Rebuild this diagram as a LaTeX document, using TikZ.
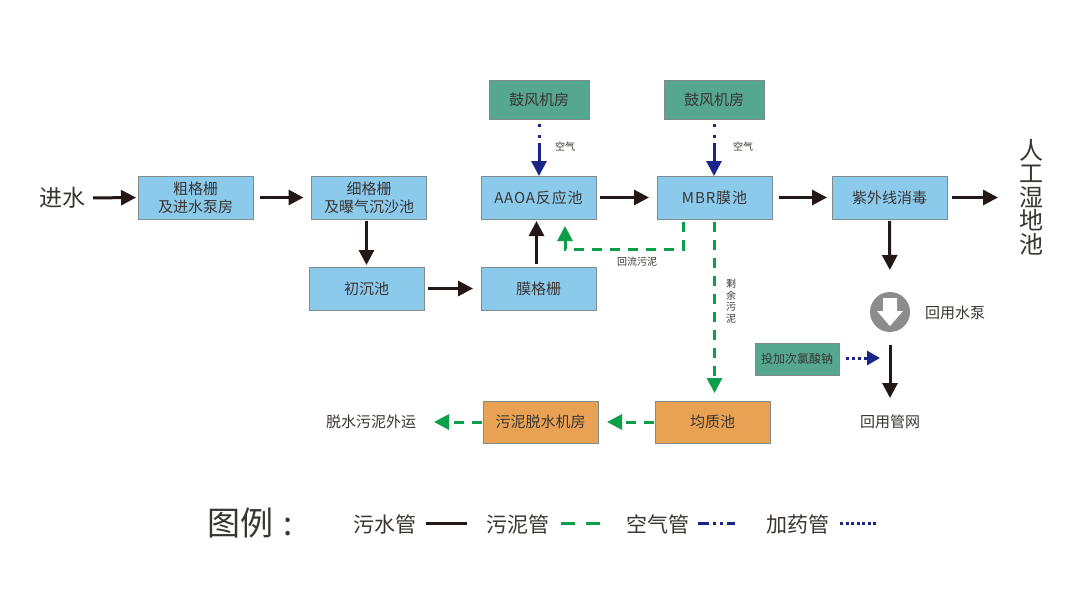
\documentclass[tikz,border=0pt]{standalone}
\usepackage{fontspec}
\setmainfont{Noto Sans CJK SC}
\usetikzlibrary{arrows.meta}
\definecolor{ink}{HTML}{3A3532}
\definecolor{pipeblack}{HTML}{231815}
\definecolor{sludge}{HTML}{0C9F4A}
\definecolor{airblue}{HTML}{1B2488}
\definecolor{boxblue}{HTML}{8CCAEC}
\definecolor{boxteal}{HTML}{55A78F}
\definecolor{boxorange}{HTML}{E9A254}
\definecolor{edge}{HTML}{7F8C8D}
\definecolor{pumpgray}{HTML}{8C8C8C}
\tikzset{
 x=1pt,y=-1pt,
 every node/.style={inner sep=0pt,outer sep=0pt,text=ink,font=\fontsize{15}{18}\selectfont,align=center},
 box/.style={draw=edge,line width=0.9pt,minimum width=115pt,minimum height=43pt},
 bluebox/.style={box,fill=boxblue},
 orangebox/.style={box,fill=boxorange,minimum height=42pt},
 tealbox/.style={box,fill=boxteal,minimum width=100pt,minimum height=39pt},
 small/.style={font=\fontsize{10}{11.5}\selectfont},
 legendtext/.style={font=\fontsize{21}{24}\selectfont},
 water/.style={draw=pipeblack,line width=3pt,-{Triangle[length=15pt,width=15pt,fill=pipeblack]}},
 mud/.style={draw=sludge,line width=3pt,dash pattern=on 10pt off 8pt,-{Triangle[length=15pt,width=15pt,fill=sludge]}},
 air/.style={draw=airblue,line width=3pt,dash pattern=on 3pt off 8pt on 3pt off 5pt on 40pt,-{Triangle[length=15pt,width=15pt,fill=airblue]}},
 dose/.style={draw=airblue,line width=3pt,dash pattern=on 3pt off 3pt,-{Triangle[length=13pt,width=14pt,fill=airblue]}},
}
\begin{document}
\begin{tikzpicture}
\useasboundingbox (0,0) rectangle (1080,592);
\fill[white] (0,0) rectangle (1080,592);
% boxes
\node[bluebox] (cu) at (195.5,197.5) {粗格栅\\及进水泵房};
\node[bluebox] (xi) at (369,197.5) {细格栅\\及曝气沉沙池};
\node[bluebox] (aaoa) at (538.5,197.5) {\addfontfeature{LetterSpace=6}AAOA反应池};
\node[bluebox] (mbr) at (714.5,197.5) {\addfontfeature{LetterSpace=6}MBR膜池};
\node[bluebox] (uv) at (889.5,197.5) {紫外线消毒};
\node[bluebox] (chu) at (366.5,288.5) {初沉池};
\node[bluebox] (mo) at (538.5,288.5) {膜格栅};
\node[tealbox] (fa) at (539,99.5) {鼓风机房};
\node[tealbox] (fb) at (714,99.5) {鼓风机房};
\node[tealbox,minimum width=84pt,minimum height=32pt,font=\fontsize{12}{14}\selectfont] (dosing) at (797,359) {投加次氯酸钠};
\node[orangebox] (jun) at (712.5,422) {均质池};
\node[orangebox] (tuo) at (540.5,422) {污泥脱水机房};
% plain labels
\node[font=\fontsize{23}{26}\selectfont] (in) at (62,198) {进水};
\node[font=\fontsize{24}{23.6}\selectfont] (wet) at (1031,197) {人\\工\\湿\\地\\池};
\node (waiyun) at (371,422) {脱水污泥外运};
\node (guanwang) at (890,422) {回用管网};
\node (bengtxt) at (955,313) {回用水泵};
\node[small] at (565,147) {空气};
\node[small] at (743,147) {空气};
\node[small] at (637,262) {回流污泥};
\node[small] at (731,301) {剩\\余\\污\\泥};
% pump
\node[circle,fill=pumpgray,minimum size=40pt] (pump) at (890,312) {};
\fill[white] (883,298) -- (897,298) -- (897,311) -- (903,311) -- (890,326) -- (877,311) -- (883,311) -- cycle;
% water pipes
\draw[water,shorten <=7pt,shorten >=2pt] (in.east) ++(1,0) coordinate (ina) (ina) -- (cu.west);
\draw[water,shorten <=7pt,shorten >=8pt] (cu.east) -- (xi.west);
\draw[water,shorten <=2pt,shorten >=2pt] (xi.south -| chu.north) -- (chu.north);
\draw[water,shorten <=4pt,shorten >=8pt] (chu.east) -- (mo.west);
\draw[water,shorten <=3pt,shorten >=2pt] (mo.north) ++(-2,0) coordinate (moa) (moa) -- (aaoa.south -| moa);
\draw[water,shorten <=4pt,shorten >=8pt] (aaoa.east) -- (mbr.west);
\draw[water,shorten <=7pt,shorten >=5pt] (mbr.east) -- (uv.west);
\draw[water,shorten <=5pt,shorten >=21pt] (uv.east) -- (wet.west |- uv.east);
\draw[water,shorten <=2pt,shorten >=22pt] (uv.south) -- (pump.north);
\draw[water,shorten <=13pt,shorten >=17pt] (pump.south) -- (guanwang.north);
% air pipes
\draw[air] (fa.south) ++(0,5) coordinate (faa) (faa) -- (aaoa.north -| faa) ;
\draw[air] (fb.south) ++(0,5) coordinate (fba) (fba) -- (mbr.north -| fba);
% sludge pipes
\coordinate (ra) at (683,222);
\coordinate (rb) at (683,249);
\coordinate (rc) at (565,249);
\coordinate (rd) at (565,226);
\draw[mud] (ra) -- (rb) -- (rc) -- (rd);
\draw[mud,shorten <=3pt,shorten >=8pt] (mbr.south) -- (jun.north -| mbr.south);
\draw[mud,shorten <=1pt,shorten >=9pt] (jun.west) -- (tuo.east);
\draw[mud,shorten <=1pt,shorten >=18pt] (tuo.west) -- (waiyun.east);
% dosing
\coordinate (dose) at (880,358);
\draw[dose,shorten <=7pt] (dosing.east |- dose) -- (dose);
% legend
\node[font=\fontsize{33}{38}\selectfont] (lg) at (250,523) {图例\hspace{10pt}:};
\node[legendtext] (l1) at (385,524) {污水管};
\node[legendtext] (l2) at (518,524) {污泥管};
\node[legendtext] (l3) at (657.5,524) {空气管};
\node[legendtext] (l4) at (797.5,524) {加药管};
\coordinate (l1e) at (467,523);
\coordinate (l2e) at (600,523);
\coordinate (l3e) at (735,523);
\coordinate (l4e) at (878,523);
\draw[pipeblack,line width=3pt,shorten <=9pt] (l1.east |- l1e) -- (l1e);
\draw[sludge,line width=3pt,dash pattern=on 14pt off 11pt on 14pt off 20pt,shorten <=11pt] (l2.east |- l2e) -- (l2e);
\draw[airblue,line width=3pt,dash pattern=on 11pt off 4pt on 3pt off 4pt on 3pt off 4pt on 11pt off 20pt,shorten <=9pt] (l3.east |- l3e) -- (l3e);
\draw[airblue,line width=3pt,dash pattern=on 3pt off 2.5pt,shorten <=11pt] (l4.east |- l4e) -- (l4e);
\end{tikzpicture}
\end{document}
